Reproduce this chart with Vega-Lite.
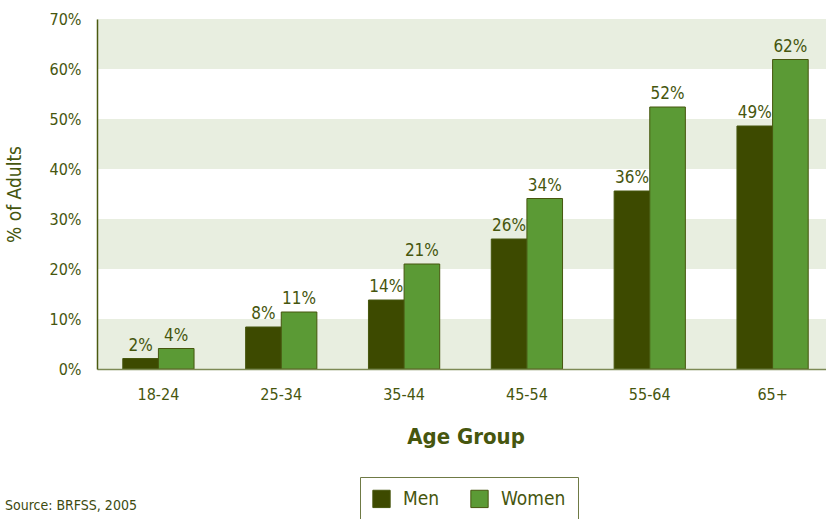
{
  "$schema": "https://vega.github.io/schema/vega-lite/v6.json",
  "width": 737,
  "height": 350,
  "padding": {"top": 11, "left": 5, "right": 0, "bottom": 0},
  "background": "white",
  "title": {
    "text": "Source: BRFSS, 2005",
    "orient": "bottom",
    "anchor": "start",
    "frame": "bounds",
    "font": "'DejaVu Sans Condensed', Lato",
    "fontSize": 14,
    "fontWeight": "normal",
    "color": "#3d4a10",
    "offset": -24
  },
  "datasets": {
    "bands": [
      {"lo": 0, "hi": 0.1},
      {"lo": 0.2, "hi": 0.3},
      {"lo": 0.4, "hi": 0.5},
      {"lo": 0.6, "hi": 0.7}
    ],
    "rates": [
      {"age": "18-24", "sex": "Men", "pct": 0.021},
      {"age": "18-24", "sex": "Women", "pct": 0.041},
      {"age": "25-34", "sex": "Men", "pct": 0.084},
      {"age": "25-34", "sex": "Women", "pct": 0.114},
      {"age": "35-44", "sex": "Men", "pct": 0.138},
      {"age": "35-44", "sex": "Women", "pct": 0.21},
      {"age": "45-54", "sex": "Men", "pct": 0.26},
      {"age": "45-54", "sex": "Women", "pct": 0.341},
      {"age": "55-64", "sex": "Men", "pct": 0.356},
      {"age": "55-64", "sex": "Women", "pct": 0.524},
      {"age": "65+", "sex": "Men", "pct": 0.486},
      {"age": "65+", "sex": "Women", "pct": 0.619}
    ]
  },
  "layer": [
    {
      "data": {"name": "bands"},
      "mark": {"type": "rect", "color": "#e8eee0"},
      "encoding": {
        "y": {"field": "lo", "type": "quantitative", "scale": {"domain": [0, 0.7], "nice": false}},
        "y2": {"field": "hi"}
      }
    },
    {
      "data": {"name": "rates"},
      "mark": {"type": "bar", "stroke": "#46560e", "strokeWidth": 1},
      "encoding": {
        "x": {"field": "age", "type": "nominal", "sort": null,
          "scale": {"paddingInner": 0.42, "paddingOuter": 0.21},
          "axis": {"title": "Age Group", "labelAngle": 0, "ticks": false, "labelPadding": 17,
            "titlePadding": 24, "domainColor": "#7d8a55", "domainWidth": 1.5, "zindex": 1}},
        "xOffset": {"field": "sex", "type": "nominal", "sort": ["Men", "Women"]},
        "y": {"field": "pct", "type": "quantitative",
          "scale": {"domain": [0, 0.7], "nice": false},
          "axis": {"title": "% of Adults", "format": ".0%", "values": [0, 0.1, 0.2, 0.3, 0.4, 0.5, 0.6, 0.7],
            "ticks": false, "labelPadding": 16, "titlePadding": 25, "grid": false,
            "domainColor": "#4a5a10", "domainWidth": 1.5, "zindex": 1}},
        "fill": {"field": "sex", "type": "nominal",
          "scale": {"domain": ["Men", "Women"], "range": ["#3d4a00", "#5b9a35"]},
          "legend": {"title": null, "orient": "none", "direction": "horizontal", "legendX": 263, "legendY": 458}}
      }
    },
    {
      "data": {"name": "rates"},
      "mark": {"type": "text", "baseline": "bottom", "dy": -4, "fontSize": 17, "color": "#46560e"},
      "encoding": {
        "x": {"field": "age", "type": "nominal", "sort": null},
        "xOffset": {"field": "sex", "type": "nominal", "sort": ["Men", "Women"]},
        "y": {"field": "pct", "type": "quantitative"},
        "text": {"field": "pct", "type": "quantitative", "format": ".0%"}
      }
    },
    {
      "mark": {"type": "rule", "color": "#96a07a", "strokeWidth": 1.5},
      "encoding": {"y": {"datum": 0.7, "type": "quantitative"}}
    }
  ],
  "config": {
    "view": {"stroke": null},
    "font": "'DejaVu Sans Condensed', Lato",
    "axis": {
      "labelFont": "'DejaVu Sans Condensed', Lato",
      "labelFontSize": 16,
      "labelColor": "#46560e",
      "titleFont": "'DejaVu Sans Condensed', Lato",
      "titleColor": "#46560e"
    },
    "axisX": {"titleFontSize": 22, "titleFontWeight": "bold"},
    "axisY": {"titleFontSize": 19, "titleFontWeight": "normal"},
    "legend": {
      "strokeColor": "#6f7a45",
      "padding": 12,
      "symbolType": "square",
      "symbolSize": 300,
      "symbolStrokeColor": "#46560e",
      "symbolStrokeWidth": 1,
      "labelFont": "'DejaVu Sans Condensed', Lato",
      "labelFontSize": 19,
      "labelColor": "#46560e",
      "columnPadding": 28,
      "labelOffset": 12
    }
  }
}
